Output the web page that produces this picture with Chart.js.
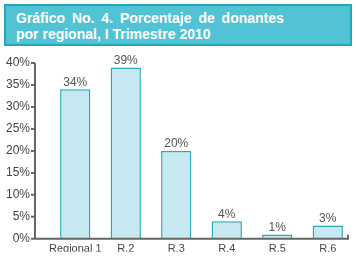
<!DOCTYPE html>
<html>
<head>
<meta charset="utf-8">
<script src="https://cdn.jsdelivr.net/npm/chart.js@4"></script>
<style>
    body { margin: 0; background: #fff; overflow: hidden; }
    #caja { position: relative; width: 356px; height: 259px; overflow: hidden; }
    #titulo {
        position: absolute; left: 4px; top: 4px;
        background: #52c3d5; border: 2px solid #1fa9bf;
        color: #fff; font-family: "Liberation Sans", Arial, sans-serif;
        font-size: 14px; font-weight: bold; line-height: 16px;
        padding: 4px 0 0 10px; width: 334px; height: 34px;
    }
    #titulo .l1 { word-spacing: 3px; }
    canvas { position: absolute; left: 0; top: 0; }
</style>
</head>
<body>
<div id="caja">
    <canvas id="grafica" width="356" height="266"></canvas>
    <div id="titulo"><div class="l1">Gráfico No. 4. Porcentaje de donantes</div><div>por regional, I Trimestre 2010</div></div>
</div>
<script>
const regionales = ["Regional 1", "R.2", "R.3", "R.4", "R.5", "R.6"];
const porcentajes = [34, 39, 20, 4, 1, 3];
const ticksY = [0, 5, 10, 15, 20, 25, 30, 35, 40];

// etiquetas encima de cada barra
const etiquetas = {
    id: "etiquetas",
    afterDatasetsDraw(chart) {
        const ctx = chart.ctx;
        const meta = chart.getDatasetMeta(0);
        ctx.save();
        ctx.fillStyle = "#555";
        ctx.font = "12px 'Liberation Sans', Arial";
        ctx.textAlign = "center";
        ctx.textBaseline = "bottom";
        meta.data.forEach((barra, i) => {
            ctx.fillText(porcentajes[i] + "%", barra.x, barra.y - 1);
        });
        ctx.restore();
    },
};

// ejes dibujados a mano (el eje Y queda separado de la primera barra)
const ejes = {
    id: "ejes",
    afterDraw(chart) {
        const ctx = chart.ctx;
        const area = chart.chartArea;
        const y = chart.scales.y;
        const xEje = area.left - 15;
        const xFin = area.right - 5;
        ctx.save();
        ctx.strokeStyle = "#666";
        ctx.lineWidth = 2;
        ctx.beginPath();
        ctx.moveTo(xEje, y.getPixelForValue(40));
        ctx.lineTo(xEje, area.bottom);
        ctx.lineTo(xFin, area.bottom);
        ctx.lineTo(xFin, area.bottom - 4);
        ticksY.forEach((t) => {
            const py = y.getPixelForValue(t);
            ctx.moveTo(xEje - 4, py);
            ctx.lineTo(xEje, py);
        });
        ctx.stroke();
        ctx.restore();
    },
};

new Chart(document.getElementById("grafica"), {
    type: "bar",
    data: {
        labels: regionales,
        datasets: [
            {
                data: porcentajes,
                backgroundColor: "#c6e8f0",
                borderColor: "#27a9ba",
                borderWidth: 1.5,
                barPercentage: 0.6,
                categoryPercentage: 1,
            },
        ],
    },
    options: {
        responsive: false,
        animation: false,
        layout: { padding: { top: 63, left: 6, right: 3, bottom: 0 } },
        plugins: { legend: { display: false }, tooltip: { enabled: false } },
        scales: {
            x: {
                grid: { display: false, drawTicks: false },
                border: { display: false },
                afterFit: (s) => { s.height = 13; },
                ticks: {
                    color: "#444",
                    font: { family: "'Liberation Sans', Arial", size: 11 },
                    padding: 4,
                    maxRotation: 0,
                    autoSkip: false,
                },
            },
            y: {
                min: 0,
                max: 40,
                grid: { display: false, drawTicks: false },
                border: { display: false },
                afterFit: (s) => { s.width = 44; },
                ticks: {
                    stepSize: 5,
                    color: "#444",
                    font: { family: "'Liberation Sans', Arial", size: 12 },
                    padding: 20,
                    callback: (v) => v + "%",
                },
            },
        },
    },
    plugins: [etiquetas, ejes],
});
</script>
</body>
</html>
